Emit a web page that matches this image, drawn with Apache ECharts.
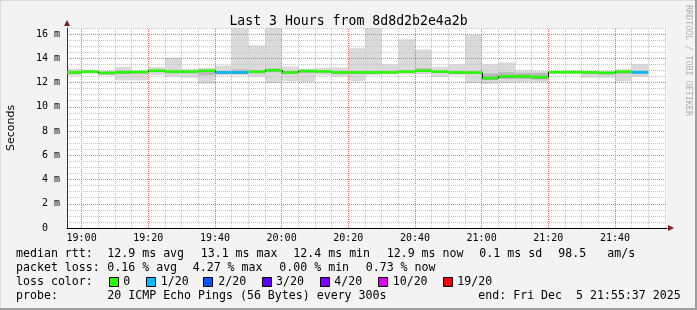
<!DOCTYPE html>
<html><head><meta charset="utf-8">
<script src="https://cdn.jsdelivr.net/npm/echarts@6/dist/echarts.min.js"></script>
<style>html,body{margin:0;padding:0;background:#f3f3f3;overflow:hidden}#c{width:697px;height:310px}</style>
</head><body><div id="c"></div>
<script>
// ---- data ----
const windowStart = '18:55:37';
const windowEnd = '21:55:37';
const stepMinutes = 5;
const stepTimes = ['18:55','19:00','19:05','19:10','19:15','19:20','19:25','19:30','19:35','19:40','19:45','19:50','19:55',
  '20:00','20:05','20:10','20:15','20:20','20:25','20:30','20:35','20:40','20:45','20:50','20:55',
  '21:00','21:05','21:10','21:15','21:20','21:25','21:30','21:35','21:40','21:45'];
const medianMs = [12.84,12.90,12.80,12.85,12.88,12.98,12.90,12.90,12.98,12.84,12.84,12.90,13.02,
  12.84,12.95,12.92,12.84,12.84,12.84,12.84,12.90,12.98,12.90,12.84,12.82,
  12.37,12.51,12.51,12.45,12.86,12.86,12.84,12.81,12.90,12.84];
const smokeMaxMs = [13.14,13.06,13.00,13.28,12.95,13.28,14.05,13.14,13.20,13.40,16.90,15.06,16.90,
  13.33,13.14,13.22,13.25,14.84,16.90,13.50,15.56,14.73,13.28,13.50,15.93,
  13.50,13.66,13.00,12.95,12.95,13.00,12.95,12.95,13.10,13.50];
const smokeMinMs = [12.57,12.73,12.59,12.18,12.18,12.60,12.45,12.40,11.90,12.60,12.60,12.45,11.96,
  12.12,12.04,12.60,12.50,12.12,12.60,12.67,12.67,12.67,12.45,12.60,11.96,
  11.90,11.96,12.04,12.04,12.67,12.67,12.40,12.40,12.12,12.45];
const innerLoMs = [12.70,12.80,12.68,12.70,12.70,12.85,12.75,12.75,12.60,12.70,12.70,12.75,12.85,
  12.70,12.80,12.80,12.70,12.70,12.75,12.75,12.80,12.85,12.80,12.75,12.70,
  12.20,12.30,12.30,12.25,12.78,12.78,12.70,12.65,12.70,12.75];
const innerHiMs = [12.98,12.98,12.90,13.00,12.95,13.05,13.05,13.00,13.05,12.95,13.10,13.00,13.15,
  12.95,13.05,13.00,12.95,12.95,12.95,12.95,13.00,13.17,13.00,12.95,12.95,
  12.75,12.85,12.80,12.80,12.95,12.95,12.92,12.90,13.00,13.00];
const coreLoMs = [12.74,12.82,12.68,12.76,12.80,12.90,12.82,12.82,12.88,12.74,12.72,12.82,12.92,
  12.76,12.86,12.84,12.76,12.76,12.76,12.76,12.82,12.90,12.82,12.76,12.74,
  12.25,12.38,12.40,12.33,12.78,12.78,12.76,12.72,12.82,12.76];
const coreHiMs = [12.88,12.94,12.84,12.90,12.92,13.02,12.94,12.94,13.02,12.88,12.90,12.94,13.06,
  12.88,12.98,12.96,12.88,12.88,12.88,12.88,12.94,13.02,12.94,12.88,12.86,
  12.50,12.60,12.60,12.55,12.90,12.90,12.88,12.85,12.94,12.88];
const lossCount = [0,0,0,0,0,0,0,0,0,1,1,0,0,0,0,0,0,0,0,0,0,0,0,0,0,0,0,0,0,0,0,0,0,0,1];
const lossLevels = [0,1,2,3,4,10,19];
const lossLabels = ['0','1/20','2/20','3/20','4/20','10/20','19/20'];
const lossColors = ['#26ff00','#00b8ff','#0059ff','#5e00ff','#7e00ff','#dd00ff','#ff0000'];
const xTickLabels = ['19:00','19:20','19:40','20:00','20:20','20:40','21:00','21:20','21:40'];
const yTickValues = [0,2,4,6,8,10,12,14,16];
const yMax = 16.5;
const titleText = 'Last 3 Hours from 8d8d2b2e4a2b';
const yName = 'Seconds';
const sideText = 'RRDTOOL / TOBI OETIKER';
const statLines = [
  ['median rtt:', '12.9 ms avg', '13.1 ms max', '12.4 ms min', '12.9 ms now', '0.1 ms sd', '98.5', 'am/s'],
  ['packet loss:', '0.16 % avg', '4.27 % max', '0.00 % min', '0.73 % now'],
];
const probeLine = ['probe:', '20 ICMP Echo Pings (56 Bytes) every 300s', 'end: Fri Dec  5 21:55:37 2025'];

// ---- helpers ----
const toMin = s => { const p = s.split(':').map(Number); return p[0]*60 + p[1] + (p[2]||0)/60; };
const X0 = toMin(windowStart), X1 = toMin(windowEnd);
const fmtHM = v => { const h = Math.floor(v/60), m = Math.round(v - h*60); return String(h).padStart(2,'0')+':'+String(m).padStart(2,'0'); };
const lossColor = n => { let c = lossColors[0]; lossLevels.forEach((l,i)=>{ if (n >= l) c = lossColors[i]; }); return c; };
const clipTo = (shape, params) => echarts.graphic.clipRectByRect(shape, {
  x: params.coordSys.x, y: params.coordSys.y, width: params.coordSys.width, height: params.coordSys.height});

function bandSeries(loArr, hiArr, color, z) {
  return {
    type: 'custom', z, silent: true, animation: false,
    data: stepTimes.map((t,i) => [toMin(t), toMin(t)+stepMinutes, loArr[i], hiArr[i]]),
    encode: {x: [0,1], y: [2,3]},
    renderItem: (params, api) => {
      const a = api.coord([api.value(0), api.value(3)]);
      const b = api.coord([api.value(1), api.value(2)]);
      const shape = clipTo({x: a[0], y: a[1], width: b[0]-a[0], height: b[1]-a[1]}, params);
      return shape ? {type: 'rect', shape, style: {fill: color}} : null;
    }
  };
}

const xMajor = xTickLabels.map(toMin), xMinor = [], yMajor = yTickValues.filter(v => v > 0), yMinor = [];
for (let t = Math.ceil(X0/5)*5; t < X1; t += 5) if (!xMajor.includes(t)) xMinor.push(t);
for (let v = 0.5; v <= yMax; v += 0.5) if (!yMajor.includes(v)) yMinor.push(v);

const medianSeries = {
  type: 'custom', z: 12, silent: true, animation: false,
  data: stepTimes.map((t,i) => [toMin(t), toMin(t)+stepMinutes, medianMs[i], i > 0 ? medianMs[i-1] : medianMs[i], lossCount[i]]),
  encode: {x: [0,1], y: 2},
  renderItem: (params, api) => {
    const a = api.coord([api.value(0), api.value(2)]);
    const b = api.coord([api.value(1), api.value(2)]);
    const pv = api.coord([api.value(0), api.value(3)]);
    const shape = clipTo({x: a[0], y: a[1] - 1.25, width: b[0]-a[0], height: 2.5}, params);
    const children = [];
    if (shape) children.push({type: 'rect', shape, style: {fill: lossColor(api.value(4))}});
    if (Math.abs(pv[1]-a[1]) > 1 && a[0] > params.coordSys.x) {
      const x = Math.round(a[0]) + 0.5;
      children.push({type: 'line', shape: {x1: x, y1: pv[1], x2: x, y2: a[1]}, style: {stroke: '#202020', lineWidth: 1}});
    }
    return {type: 'group', children};
  }
};

const MAJOR = '#ff6a6a', MINOR = '#c4c4c4';
// major grid lines through the library's markLine on the axes' scale
const majorGridSeries = {
  type: 'line', z: 10, silent: true, animation: false, symbol: 'none',
  data: [[X0, 0]], lineStyle: {width: 0}, tooltip: {show: false},
  markLine: {
    silent: true, animation: false, symbol: ['none', 'none'], label: {show: false},
    emphasis: {disabled: true},
    lineStyle: {color: MAJOR, width: 1, type: [1, 1], opacity: 1},
    data: xMajor.map(v => ({xAxis: v})).concat(yMajor.map(v => ({yAxis: v})))
  }
};

const mono = 'DejaVu Sans Mono';
const graphics = [];
// border
graphics.push({type:'line', shape:{x1:0,y1:0.5,x2:697,y2:0.5}, style:{stroke:'#dcdcdc',lineWidth:1}, silent:true});
graphics.push({type:'line', shape:{x1:0.5,y1:0,x2:0.5,y2:310}, style:{stroke:'#dcdcdc',lineWidth:1}, silent:true});
graphics.push({type:'line', shape:{x1:0,y1:309,x2:697,y2:309}, style:{stroke:'#9e9e9e',lineWidth:2}, silent:true});
graphics.push({type:'line', shape:{x1:696,y1:0,x2:696,y2:310}, style:{stroke:'#9e9e9e',lineWidth:2}, silent:true});
// arrows
graphics.push({type:'polygon', shape:{points:[[64,26],[70,26],[67,20]]}, style:{fill:'#7f1f1f'}, silent:true, z:20});
graphics.push({type:'polygon', shape:{points:[[668,225],[668,231],[674,228]]}, style:{fill:'#7f1f1f'}, silent:true, z:20});
// side text
graphics.push({type:'text', x:688, y:5, rotation:-Math.PI/2, silent:true,
  style:{text:sideText, font:'8.4px "'+mono+'"', fill:'#b0b0b0', align:'left', verticalAlign:'middle'}});
// stat lines
const statX = [16, 107.3, 200.7, 293.3, 386.7, 479.3, 558.3, 607.3];
const statX2 = [16, 107.3, 192.7, 279.3, 365.7];
const lineY = [254.3, 268.3, 282.3, 296.3];
const legendFont = '11.6px "'+mono+'"';
statLines[0].forEach((s,i) => graphics.push({type:'text', x:statX[i], y:lineY[0], silent:true, style:{text:s, font:legendFont, fill:'#000', verticalAlign:'middle'}}));
statLines[1].forEach((s,i) => graphics.push({type:'text', x:statX2[i], y:lineY[1], silent:true, style:{text:s, font:legendFont, fill:'#000', verticalAlign:'middle'}}));
graphics.push({type:'text', x:16, y:lineY[2], silent:true, style:{text:'loss color:', font:legendFont, fill:'#000', verticalAlign:'middle'}});
const boxX = [108.5, 145.7, 203.3, 261.7, 320, 377.7, 442.7];
const labX = [123.3, 160.7, 218.3, 276, 334.3, 392.7, 457.3];
lossLabels.forEach((s,i) => {
  graphics.push({type:'rect', shape:{x:Math.round(boxX[i])+0.5, y:277.5, width:9, height:9}, style:{fill:lossColors[i], stroke:'#000', lineWidth:1}, silent:true});
  graphics.push({type:'text', x:labX[i], y:lineY[2], silent:true, style:{text:s, font:legendFont, fill:'#000', verticalAlign:'middle'}});
});
const probeX = [16, 107.3, 478.3];
probeLine.forEach((s,i) => graphics.push({type:'text', x:probeX[i], y:lineY[3], silent:true, style:{text:s, font:legendFont, fill:'#000', verticalAlign:'middle'}}));

const GRID_W = 600, GRID_H = 200;

const option = {
  backgroundColor: '#f3f3f3',
  animation: false,
  title: {text: titleText, left: 'center', top: 10, textStyle: {fontFamily: mono, fontSize: 13.2, fontWeight: 'normal', color: '#000'}},
  grid: {left: 67, right: 30, top: 28, bottom: 82, show: true, backgroundColor: '#ffffff', borderWidth: 0,
    containLabel: false, outerBoundsMode: 'none'},
  xAxis: [{
    type: 'value', min: X0, max: X1, z: 9, position: 'bottom',
    axisLine: {show: true, lineStyle: {color: '#000', width: 1}},
    axisTick: {show: false},
    axisLabel: {customValues: xMajor, formatter: v => fmtHM(v), fontFamily: mono, fontSize: 10, color: '#000', margin: 5},
    splitLine: {show: false}
  }, {
    type: 'value', min: X0, max: X1, z: 8, position: 'bottom', offset: 0,
    axisLine: {show: false}, axisLabel: {show: false}, splitLine: {show: false},
    axisTick: {show: true, inside: true, length: GRID_H, customValues: xMinor, lineStyle: {color: MINOR, width: 1, type: [1,1]}}
  }],
  yAxis: [{
    type: 'value', min: 0, max: yMax, z: 9, position: 'left',
    name: yName, nameLocation: 'middle', nameRotate: 90, nameGap: 50,
    nameTextStyle: {fontFamily: 'DejaVu Sans', fontSize: 11, color: '#000'},
    axisLine: {show: true, lineStyle: {color: '#333', width: 1}},
    axisTick: {show: false},
    axisLabel: {customValues: yTickValues, formatter: v => v === 0 ? '0  ' : v + ' m', fontFamily: mono, fontSize: 10, color: '#000', margin: 7},
    splitLine: {show: false}
  }, {
    type: 'value', min: 0, max: yMax, z: 8, position: 'left', offset: 0,
    axisLine: {show: false}, axisLabel: {show: false}, splitLine: {show: false},
    axisTick: {show: true, inside: true, length: GRID_W, customValues: yMinor, lineStyle: {color: MINOR, width: 1, type: [1,1]}}
  }],
  graphic: graphics,
  series: [
    bandSeries(smokeMinMs, smokeMaxMs, '#dadada', 2),
    bandSeries(innerLoMs, innerHiMs, '#b8b8b8', 3),
    bandSeries(coreLoMs, coreHiMs, '#8c8c8c', 4),
    majorGridSeries,
    medianSeries
  ]
};
const chart = echarts.init(document.getElementById('c'), null, {width: 697, height: 310});
chart.setOption(option);
</script></body></html>
